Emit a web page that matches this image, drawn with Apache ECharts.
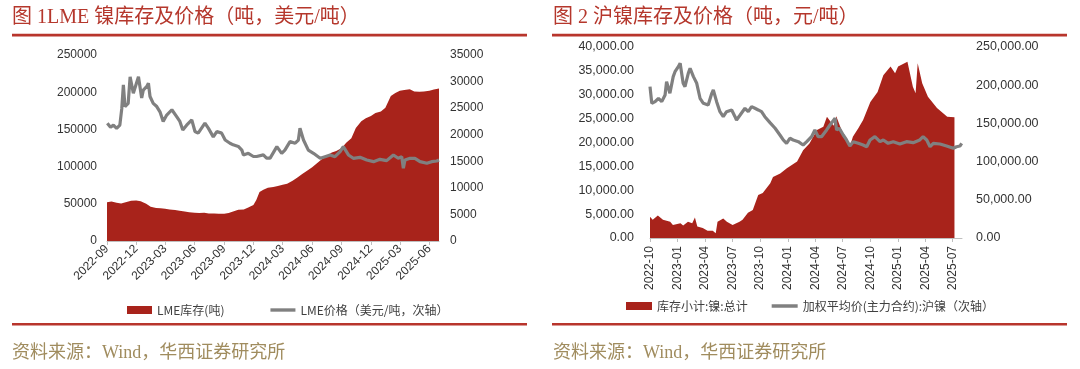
<!DOCTYPE html>
<html>
<head>
<meta charset="utf-8">
<script src="https://cdn.jsdelivr.net/npm/echarts@6/dist/echarts.min.js"></script>
<style>
html,body{margin:0;padding:0;background:#fff;}
#c{width:1080px;height:369px;}
</style>
</head>
<body>
<div id="c"></div>
<script>
// ---------- Chart 1: LME nickel ----------
const lmeTicks = ['2022-09','2022-12','2023-03','2023-06','2023-09','2023-12','2024-03','2024-06','2024-09','2024-12','2025-03','2025-06'];
const lmeStockDates = ['2022-09-01','2022-09-15','2022-10-01','2022-10-15','2022-11-01','2022-11-15','2022-12-01','2022-12-15',
 '2023-01-01','2023-01-15','2023-02-01','2023-02-15','2023-03-01','2023-03-15','2023-04-01','2023-04-15','2023-05-01','2023-05-15',
 '2023-06-01','2023-06-15','2023-07-01','2023-07-15','2023-08-01','2023-08-15','2023-09-01','2023-09-15','2023-10-01','2023-10-15',
 '2023-11-01','2023-11-15','2023-12-01','2023-12-10','2023-12-20','2024-01-01','2024-01-15','2024-02-01','2024-02-15','2024-03-01',
 '2024-03-15','2024-04-01','2024-04-15','2024-05-01','2024-05-15','2024-06-01','2024-06-15','2024-07-01','2024-07-15','2024-08-01',
 '2024-08-15','2024-09-01','2024-09-15','2024-10-01','2024-10-15','2024-11-01','2024-11-15','2024-12-01','2024-12-15','2025-01-01',
 '2025-01-15','2025-02-01','2025-02-15','2025-03-01','2025-03-15','2025-04-01','2025-04-15','2025-05-01','2025-05-15','2025-06-01',
 '2025-06-15','2025-07-01'];
const lmeStock = [52000,53000,51500,50500,52500,54000,54500,53500,
 50000,46000,44500,44000,43500,42500,41500,40500,39500,38500,
 38000,37500,38000,37000,37000,36500,36500,37500,40000,42000,
 42500,45000,48500,55000,66000,69000,71500,72500,74000,75500,
 77000,81000,85000,90000,94000,99000,104000,110000,114000,119000,
 121000,125000,132000,138000,152000,161000,165000,168000,172000,174000,
 179000,195000,199000,202000,203000,204000,201000,200500,201000,202000,
 203500,205000];
const lmePriceDates = ['2022-09-02','2022-09-12','2022-09-21','2022-10-01','2022-10-11','2022-10-17','2022-10-22','2022-10-27','2022-11-06',
 '2022-11-12','2022-11-22','2022-12-08','2022-12-18','2022-12-23','2023-01-03','2023-01-08','2023-01-13','2023-01-23','2023-02-03',
 '2023-02-13','2023-02-23','2023-03-06','2023-03-22','2023-03-27','2023-04-06','2023-04-16','2023-04-25','2023-05-07','2023-05-23',
 '2023-06-02','2023-06-12','2023-07-03','2023-07-14','2023-07-29','2023-08-09','2023-08-24','2023-09-04','2023-09-19','2023-09-29',
 '2023-10-15','2023-10-26','2023-10-31','2023-11-15','2023-11-20','2023-12-01','2023-12-11','2023-12-16','2024-01-01','2024-01-11',
 '2024-01-22','2024-02-12','2024-02-27','2024-03-03','2024-03-08','2024-03-24','2024-04-09','2024-04-19','2024-04-24','2024-05-05',
 '2024-05-20','2024-06-05','2024-06-26','2024-07-11','2024-07-27','2024-08-11','2024-08-27','2024-09-06','2024-09-22','2024-10-07',
 '2024-10-28','2024-11-18','2024-12-09','2024-12-29','2025-01-19','2025-02-09','2025-02-24','2025-03-07','2025-03-12','2025-03-17',
 '2025-04-02','2025-04-17','2025-05-03','2025-05-24','2025-06-08','2025-06-24','2025-07-01'];
const lmePrice = [22150,21400,21800,21200,21800,24900,29400,25300,25900,
 30900,27800,30900,26900,28400,29100,29700,27200,25900,25300,
 24300,22500,23700,24700,25000,23400,22500,20900,21800,22800,
 20600,20300,22200,21200,19600,20600,20300,19000,18400,18100,
 17800,17100,16200,16500,16200,15900,15900,16200,16200,15600,
 15600,17750,16500,16500,17100,18700,18400,19000,21200,19000,
 17100,16500,15560,15870,16190,15870,16810,17750,16190,15560,
 15750,15240,14930,15370,15120,16190,15560,15870,13680,15240,
 15560,15560,14930,14620,14930,15060,15240];

// ---------- Chart 2: SHFE nickel ----------
const shTicks = ['2022-10','2023-01','2023-04','2023-07','2023-10','2024-01','2024-04','2024-07','2024-10','2025-01','2025-04','2025-07'];
const shStockDates = ['2022-10-01','2022-10-10','2022-10-27','2022-11-13','2022-12-07','2022-12-16','2023-01-10','2023-01-19','2023-02-04',
 '2023-02-18','2023-02-27','2023-03-07','2023-03-25','2023-04-10','2023-04-27','2023-05-07','2023-05-13','2023-06-01','2023-06-13',
 '2023-07-02','2023-07-25','2023-08-04','2023-08-22','2023-09-07','2023-09-25','2023-10-10','2023-11-04','2023-11-13','2023-12-07',
 '2023-12-29','2024-02-01','2024-02-21','2024-03-13','2024-04-07','2024-04-28','2024-05-10','2024-06-01','2024-06-10','2024-07-01',
 '2024-07-25','2024-08-04','2024-08-22','2024-09-07','2024-10-01','2024-10-25','2024-11-13','2024-12-07','2024-12-22','2025-01-01',
 '2025-02-01','2025-02-19','2025-02-28','2025-03-07','2025-03-22','2025-04-10','2025-05-10','2025-06-13','2025-07-07'];
const shStock = [4460,3800,4700,3800,3400,2700,3100,2600,3400,
 3100,4300,2400,2100,1500,1500,1000,3400,4100,3400,
 2700,3400,3800,5300,5860,9000,9400,11450,12800,13500,
 14600,16000,18400,19800,22600,23300,25400,23500,25500,22000,
 19100,21200,23000,24700,28500,30600,34100,35900,34500,35900,
 36900,31700,30300,36600,32400,29600,27200,25400,25300];
const shPriceDates = ['2022-10-01','2022-10-07','2022-10-18','2022-10-29','2022-11-09','2022-11-20','2022-11-25','2022-12-06','2022-12-17',
 '2022-12-23','2023-01-03','2023-01-09','2023-01-19','2023-01-25','2023-02-05','2023-02-11','2023-02-22','2023-03-05','2023-03-16',
 '2023-03-27','2023-04-12','2023-04-24','2023-04-29','2023-05-10','2023-05-21','2023-06-01','2023-06-12','2023-06-29','2023-07-10',
 '2023-07-15','2023-07-27','2023-08-12','2023-08-23','2023-09-03','2023-09-14','2023-09-25','2023-10-06','2023-10-17','2023-11-03',
 '2023-11-20','2023-12-06','2023-12-17','2023-12-28','2024-01-08','2024-01-19','2024-02-05','2024-02-21','2024-03-04','2024-03-20',
 '2024-03-31','2024-04-11','2024-04-22','2024-05-09','2024-05-20','2024-06-06','2024-06-11','2024-06-20','2024-07-03','2024-07-14',
 '2024-07-25','2024-08-05','2024-08-22','2024-09-07','2024-09-19','2024-09-30','2024-10-16','2024-11-02','2024-11-13','2024-11-29',
 '2024-12-16','2025-01-07','2025-01-29','2025-02-20','2025-03-14','2025-03-25','2025-04-06','2025-04-17','2025-04-28','2025-05-20',
 '2025-06-11','2025-07-03','2025-07-14','2025-07-25','2025-07-31'];
const shPrice = [198100,176300,178500,182900,178500,187200,204600,189400,211200,
 217700,224300,228700,202500,198100,215600,222100,211200,202500,182900,
 176300,174100,189400,193700,178500,165300,158800,165300,167600,158800,
 154500,161000,169800,165300,171900,169800,167600,165300,158800,151000,
 143600,134800,128300,123900,130500,128300,126100,121700,126100,132600,
 141400,132600,132600,141400,147900,156700,141400,143600,134800,128300,
 120400,126100,123900,121700,119500,128300,132600,126100,128300,123900,
 126100,123000,126100,124800,128300,132600,128300,119500,123900,123000,
 120400,117400,119500,120400,124000];

// ---------- helpers ----------
function ts(s){ const p=s.split('-').map(Number); return new Date(p[0],p[1]-1,p[2]||1).getTime(); }
function ym(v){ const d=new Date(v); return d.getFullYear()+'-'+String(d.getMonth()+1).padStart(2,'0'); }
function pairs(ds,vs){ return ds.map((d,i)=>[ts(d),vs[i]]); }
function fmt2(v){ return Number(v).toLocaleString('en-US',{minimumFractionDigits:2,maximumFractionDigits:2}); }
function plain(v){ return String(v); }

const RED='#A8231B', GRAY='#808080', LINE='#B8352C', AX='#333333';
const NUM_FONT="'Liberation Sans','Noto Sans CJK SC',sans-serif";
const CJK_FONT="'Noto Sans CJK SC','Liberation Sans',sans-serif";
const SERIF="'Liberation Serif','Noto Sans CJK SC',serif";
const axisLineStyle={show:true,lineStyle:{color:'#BFBFBF',width:1}};
const LINE_ICON='path://M0 0H26V3.5H0Z';

const chart = echarts.init(document.getElementById('c'), null, {renderer:'canvas'});
const option = {
  animation:false,
  backgroundColor:'#fff',
  title:[
    {text:'图 1LME 镍库存及价格（吨，美元/吨）',left:12,top:8,padding:0,
     textStyle:{color:'#B5372C',fontSize:20,fontWeight:'normal',fontFamily:SERIF}},
    {text:'图 2 沪镍库存及价格（吨，元/吨）',left:553,top:8,padding:0,
     textStyle:{color:'#B5372C',fontSize:20,fontWeight:'normal',fontFamily:SERIF}},
    {text:'资料来源：Wind，华西证券研究所',left:12,top:344,padding:0,
     textStyle:{color:'#A08C5E',fontSize:18,fontWeight:'normal',fontFamily:SERIF}},
    {text:'资料来源：Wind，华西证券研究所',left:553,top:344,padding:0,
     textStyle:{color:'#A08C5E',fontSize:18,fontWeight:'normal',fontFamily:SERIF}}
  ],
  graphic:[
    {type:'rect',shape:{x:12,y:33.8,width:515,height:2.6},style:{fill:LINE},silent:true},
    {type:'rect',shape:{x:552,y:33.8,width:515,height:2.6},style:{fill:LINE},silent:true},
    {type:'rect',shape:{x:12,y:323,width:515,height:2.6},style:{fill:LINE},silent:true},
    {type:'rect',shape:{x:552,y:323,width:515,height:2.6},style:{fill:LINE},silent:true}
  ],
  legend:[
    {left:127,top:304,itemWidth:25,itemHeight:8,itemGap:46,padding:0,
     textStyle:{color:'#404040',fontSize:12,fontFamily:CJK_FONT},
     data:[{name:'LME库存(吨)',icon:'rect'},{name:'LME价格（美元/吨，次轴）',icon:LINE_ICON}]},
    {left:626,top:300,itemWidth:26,itemHeight:8,itemGap:24,padding:0,
     textStyle:{color:'#404040',fontSize:12,fontFamily:CJK_FONT},
     data:[{name:'库存小计:镍:总计',icon:'rect'},{name:'加权平均价(主力合约):沪镍（次轴）',icon:LINE_ICON}]}
  ],
  grid:[
    {left:107,top:55,width:332,height:186},
    {left:650,top:47,width:312,height:191}
  ],
  xAxis:[
    {type:'value',gridIndex:0,min:ts('2022-09-01'),max:ts('2025-07-01'),
     axisLine:axisLineStyle,splitLine:{show:false},
     axisTick:{show:true,length:4,lineStyle:{color:'#BFBFBF'},customValues:lmeTicks.map(ts)},
     axisLabel:{customValues:lmeTicks.map(ts),formatter:ym,rotate:45,margin:6,color:AX,fontSize:12,fontFamily:NUM_FONT}},
    {type:'value',gridIndex:1,min:ts('2022-10-01'),max:ts('2025-08-01'),
     axisLine:axisLineStyle,splitLine:{show:false},
     axisTick:{show:true,length:4,lineStyle:{color:'#BFBFBF'},customValues:shTicks.map(ts)},
     axisLabel:{customValues:shTicks.map(ts),formatter:ym,rotate:90,margin:8,color:AX,fontSize:12,fontFamily:NUM_FONT}}
  ],
  yAxis:[
    {type:'value',gridIndex:0,min:0,max:250000,interval:50000,splitLine:{show:false},axisLine:{show:false},axisTick:{show:false},
     axisLabel:{color:AX,fontSize:12,margin:10,fontFamily:NUM_FONT,formatter:plain}},
    {type:'value',gridIndex:0,position:'right',min:0,max:35000,interval:5000,splitLine:{show:false},axisLine:{show:false},axisTick:{show:false},
     axisLabel:{color:AX,fontSize:12,margin:11,fontFamily:NUM_FONT,formatter:plain}},
    {type:'value',gridIndex:1,min:0,max:40000,interval:5000,splitLine:{show:false},axisLine:{show:false},axisTick:{show:false},
     axisLabel:{color:AX,fontSize:12.5,margin:16,fontFamily:NUM_FONT,formatter:fmt2}},
    {type:'value',gridIndex:1,position:'right',min:0,max:250000,interval:50000,splitLine:{show:false},axisLine:{show:false},axisTick:{show:false},
     axisLabel:{color:AX,fontSize:12.5,margin:14,fontFamily:NUM_FONT,formatter:fmt2}}
  ],
  series:[
    {name:'LME库存(吨)',type:'line',xAxisIndex:0,yAxisIndex:0,symbol:'none',data:pairs(lmeStockDates,lmeStock),
     lineStyle:{width:0,color:RED},itemStyle:{color:RED},areaStyle:{color:RED,opacity:1},z:2},
    {name:'LME价格（美元/吨，次轴）',type:'line',xAxisIndex:0,yAxisIndex:1,symbol:'none',data:pairs(lmePriceDates,lmePrice),
     lineStyle:{width:3.2,color:GRAY},itemStyle:{color:GRAY},z:3},
    {name:'库存小计:镍:总计',type:'line',xAxisIndex:1,yAxisIndex:2,symbol:'none',data:pairs(shStockDates,shStock),
     lineStyle:{width:0,color:RED},itemStyle:{color:RED},areaStyle:{color:RED,opacity:1},z:2},
    {name:'加权平均价(主力合约):沪镍（次轴）',type:'line',xAxisIndex:1,yAxisIndex:3,symbol:'none',data:pairs(shPriceDates,shPrice),
     lineStyle:{width:3.2,color:GRAY},itemStyle:{color:GRAY},z:3}
  ]
};
chart.setOption(option);
</script>
</body>
</html>
